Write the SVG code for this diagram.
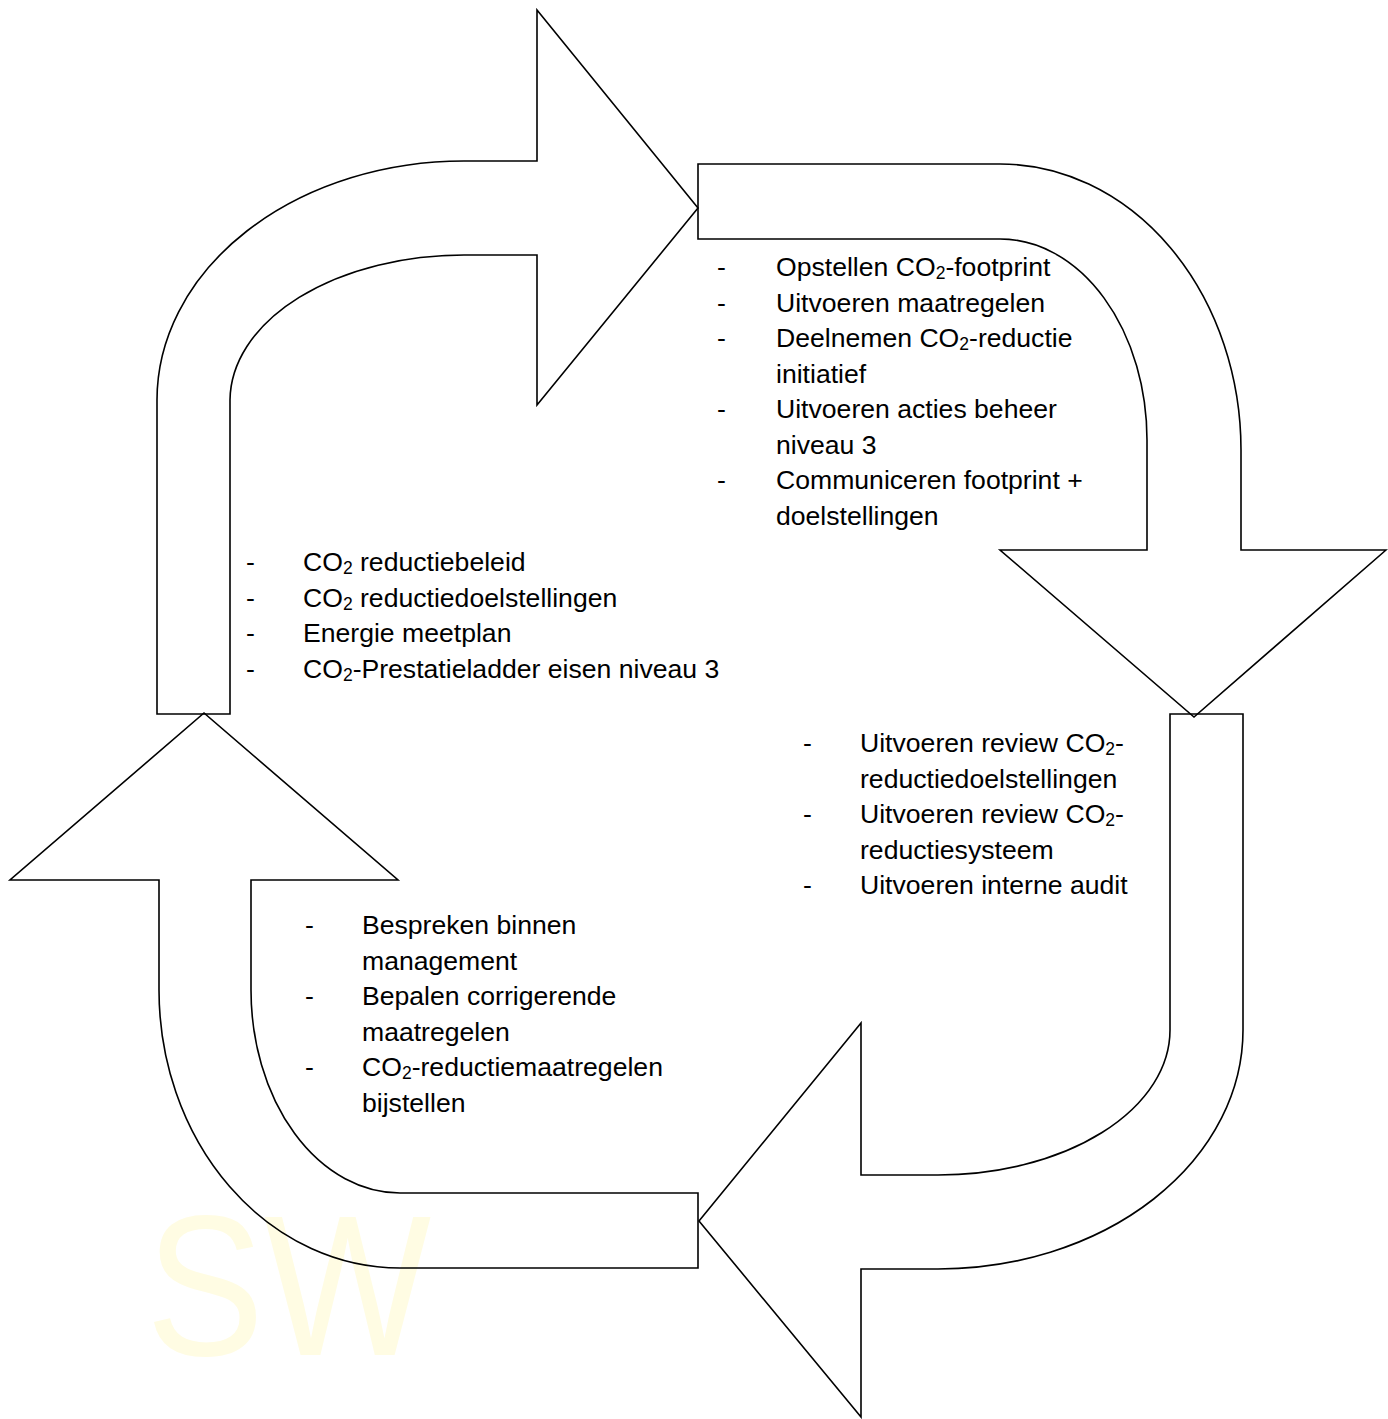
<svg xmlns="http://www.w3.org/2000/svg" width="1388" height="1419" viewBox="0 0 1388 1419">
<style>
.arrow{fill:none;stroke:#000;stroke-width:1.6;stroke-linejoin:miter}
.t{font-family:"Liberation Sans",Arial,sans-serif;font-size:26.6px;fill:#000}
.s{font-size:17.5px}
.wm{font-family:"Liberation Sans",Arial,sans-serif;font-size:200px;fill:#fffce3}
</style>
<rect width="1388" height="1419" fill="#fff"/>
<g id="watermark"><text class="wm" x="146" y="1355" textLength="285" lengthAdjust="spacingAndGlyphs">SW</text></g>
<g id="connectors">
<path id="arrow-plan" class="arrow" d="M157,714 L157,400 A307,239 0 0 1 464,161 L537,161 L537,10 L698,208 L537,405 L537,255 L464,255 A234,146 0 0 0 230,400 L230,714 Z"/>
<path id="arrow-do" class="arrow" d="M698,164 L1000,164 A241,286 0 0 1 1241,450 L1241,550 L1386,550 L1194,717 L1000,550 L1147,550 L1147,440 A147,201 0 0 0 1000,239 L698,239 Z"/>
<path id="arrow-check" class="arrow" d="M1243,714 L1243,1030 A305,239 0 0 1 938,1269 L861,1269 L861,1417 L699,1221 L861,1023 L861,1175 L938,1175 A232,145 0 0 0 1170,1030 L1170,714 Z"/>
<path id="arrow-act" class="arrow" d="M698,1268 L400,1268 A241,278 0 0 1 159,990 L159,880 L10,880 L204,713 L398,880 L251,880 L251,990 A149,203 0 0 0 400,1193 L698,1193 Z"/>
</g>
<g id="node-plan">
<text class="t" x="246" y="571">-</text><text class="t" x="303" y="571">CO<tspan class="s" dy="3">2</tspan><tspan dy="-3"> reductiebeleid</tspan></text>
<text class="t" x="246" y="607">-</text><text class="t" x="303" y="607">CO<tspan class="s" dy="3">2</tspan><tspan dy="-3"> reductiedoelstellingen</tspan></text>
<text class="t" x="246" y="642">-</text><text class="t" x="303" y="642">Energie meetplan</text>
<text class="t" x="246" y="678">-</text><text class="t" x="303" y="678">CO<tspan class="s" dy="3">2</tspan><tspan dy="-3">-Prestatieladder eisen niveau 3</tspan></text>
</g>
<g id="node-do">
<text class="t" x="717" y="276">-</text><text class="t" x="776" y="276">Opstellen CO<tspan class="s" dy="3">2</tspan><tspan dy="-3">-footprint</tspan></text>
<text class="t" x="717" y="311.5">-</text><text class="t" x="776" y="311.5">Uitvoeren maatregelen</text>
<text class="t" x="717" y="347">-</text><text class="t" x="776" y="347">Deelnemen CO<tspan class="s" dy="3">2</tspan><tspan dy="-3">-reductie</tspan></text>
<text class="t" x="776" y="382.5">initiatief</text>
<text class="t" x="717" y="418">-</text><text class="t" x="776" y="418">Uitvoeren acties beheer</text>
<text class="t" x="776" y="453.5">niveau 3</text>
<text class="t" x="717" y="489">-</text><text class="t" x="776" y="489">Communiceren footprint +</text>
<text class="t" x="776" y="524.5">doelstellingen</text>
</g>
<g id="node-check">
<text class="t" x="803" y="752">-</text><text class="t" x="860" y="752">Uitvoeren review CO<tspan class="s" dy="3">2</tspan><tspan dy="-3">-</tspan></text>
<text class="t" x="860" y="787.5">reductiedoelstellingen</text>
<text class="t" x="803" y="823">-</text><text class="t" x="860" y="823">Uitvoeren review CO<tspan class="s" dy="3">2</tspan><tspan dy="-3">-</tspan></text>
<text class="t" x="860" y="858.5">reductiesysteem</text>
<text class="t" x="803" y="894">-</text><text class="t" x="860" y="894">Uitvoeren interne audit</text>
</g>
<g id="node-act">
<text class="t" x="305" y="934">-</text><text class="t" x="362" y="934">Bespreken binnen</text>
<text class="t" x="362" y="969.5">management</text>
<text class="t" x="305" y="1005">-</text><text class="t" x="362" y="1005">Bepalen corrigerende</text>
<text class="t" x="362" y="1040.5">maatregelen</text>
<text class="t" x="305" y="1076">-</text><text class="t" x="362" y="1076">CO<tspan class="s" dy="3">2</tspan><tspan dy="-3">-reductiemaatregelen</tspan></text>
<text class="t" x="362" y="1111.5">bijstellen</text>
</g>
</svg>
